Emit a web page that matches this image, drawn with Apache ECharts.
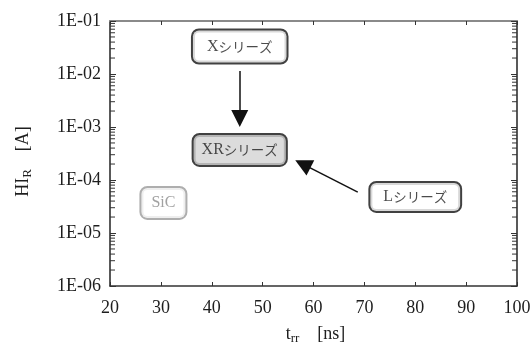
<!DOCTYPE html>
<html>
<head>
<meta charset="utf-8">
<script src="https://cdn.jsdelivr.net/npm/echarts@6/dist/echarts.min.js"></script>
<style>
  html, body { margin: 0; padding: 0; background: #fff; }
  #chart { width: 532px; height: 345px; }
</style>
</head>
<body>
<div id="chart"></div>
<script>
// x axis: reverse recovery time t_rr [ns]
const xTicks = [20, 30, 40, 50, 60, 70, 80, 90, 100];
// y axis: current [A], decade tick labels
const yTickLabels = ['1E-06', '1E-05', '1E-04', '1E-03', '1E-02', '1E-01'];
// log minor tick multipliers within each decade
const minorMultipliers = [2, 3, 4, 5, 6, 7, 8, 9];

// series annotation boxes: name, t_rr, current
const seriesNames = ['Xシリーズ', 'XRシリーズ', 'SiC', 'Lシリーズ'];
const seriesTrr = [45.5, 45.5, 30.5, 80];
const seriesCurrent = [3.3e-2, 3.7e-4, 3.7e-5, 4.8e-5];

// arrows: [from, to] as [t_rr, current]
const arrowFrom = [[45.5, 1.14e-2], [68.7, 5.9e-5]];
const arrowTo = [[45.5, 1.45e-3], [57.9, 2.0e-4]];

const SERIF = '"Liberation Serif", "Times New Roman", serif';
const CJK = '"Noto Sans CJK JP", sans-serif';
const INK = '#1e1e1e';

function boxRich(color) {
  return {
    l: { fontFamily: SERIF, fontSize: 16, color: color, lineHeight: 18 },
    k: { fontFamily: CJK, fontSize: 13.5, color: color, lineHeight: 18 }
  };
}

const boxStyles = [
  { border: '#111', fill: '#fff', color: INK, pad: [7, 14] },
  { border: '#111', fill: '#d3d3d3', color: INK, pad: [6, 8] },
  { border: '#9a9a9a', fill: '#fff', color: '#8a8a8a', pad: [6, 10] },
  { border: '#111', fill: '#fff', color: INK, pad: [5, 13] }
];

function splitName(name) {
  const m = name.match(/^([A-Za-z]+)(.*)$/);
  return m[2] ? '{l|' + m[1] + '}{k|' + m[2] + '}' : '{l|' + m[1] + '}';
}

const boxData = seriesNames.map((n, i) => ({
  value: [seriesTrr[i], seriesCurrent[i]],
  name: n,
  label: {
    show: true,
    position: 'inside',
    formatter: splitName(n),
    backgroundColor: boxStyles[i].fill,
    borderColor: boxStyles[i].border,
    borderWidth: 2,
    borderRadius: 6,
    padding: boxStyles[i].pad,
    rich: boxRich(boxStyles[i].color)
  }
}));

const arrowData = arrowFrom.map((f, i) => ({ coords: [f, arrowTo[i]] }));

// minor tick values at 2..9 x 10^k for each decade on the axis
const minorTickValues = [];
for (let e = -6; e < -1; e++) {
  minorMultipliers.forEach(m => minorTickValues.push(m * Math.pow(10, e)));
}

const yLabel = v => {
  const e = Math.round(Math.log10(v));
  return yTickLabels[e + 6] || '';
};

const chart = echarts.init(document.getElementById('chart'), null, { renderer: 'canvas' });

const axisNameRich = {
  m: { fontFamily: SERIF, fontSize: 18, color: INK, lineHeight: 20, padding: [0, 0, 5, 0], verticalAlign: 'top' },
  s: { fontFamily: SERIF, fontSize: 13, color: INK, lineHeight: 13, verticalAlign: 'bottom' }
};

chart.setOption({
  animation: false,
  grid: { left: 110, right: 15, top: 21, bottom: 59, outerBoundsMode: 'none', containLabel: false },
  xAxis: [
    {
      type: 'value', min: 20, max: 100, interval: 10, position: 'bottom',
      name: '{m|t}{s|rr}{m|    [ns]}', nameLocation: 'middle', nameGap: 39,
      nameTextStyle: { rich: axisNameRich, padding: [0, 0, 0, 4] },
      axisLine: { lineStyle: { color: '#333', width: 1.5 } },
      axisTick: { inside: true, length: 4, lineStyle: { color: '#333' } },
      axisLabel: { fontFamily: SERIF, fontSize: 18, color: INK, margin: 13, formatter: v => String(xTicks[xTicks.indexOf(v)]) },
      splitLine: { show: false }
    },
    {
      type: 'value', min: 20, max: 100, interval: 10, position: 'top',
      axisLine: { lineStyle: { color: '#8a8a8a', width: 2 } },
      axisTick: { inside: true, length: 4, lineStyle: { color: '#333' } },
      axisLabel: { show: false },
      splitLine: { show: false }
    }
  ],
  yAxis: [
    {
      type: 'log', logBase: 10, min: 1e-6, max: 1e-1, position: 'left',
      name: '{m|HI}{s|R}{m|    [A]}', nameLocation: 'middle', nameGap: 76,
      nameTextStyle: { rich: axisNameRich, padding: [0, 16, 0, 0] },
      axisLine: { lineStyle: { color: '#222', width: 1.5 } },
      axisTick: { inside: true, length: 6, lineStyle: { color: '#333' } },
      axisLabel: { fontFamily: SERIF, fontSize: 18, color: INK, margin: 9, formatter: yLabel },
      splitLine: { show: false }
    },
    {
      type: 'log', logBase: 10, min: 1e-6, max: 1e-1, position: 'right',
      axisLine: { lineStyle: { color: '#222', width: 1.5 } },
      axisTick: { inside: true, length: 6, lineStyle: { color: '#333' } },
      axisLabel: { show: false },
      splitLine: { show: false }
    }
  ],
  series: [
    {
      // log-spaced minor ticks on left and right frame edges
      type: 'custom',
      xAxisIndex: 0, yAxisIndex: 0,
      silent: true,
      data: minorTickValues.map(v => [20, v]),
      renderItem: (params, api) => {
        const left = api.coord([20, api.value(1)]);
        const right = api.coord([100, api.value(1)]);
        const style = { stroke: '#333', lineWidth: 1 };
        return {
          type: 'group',
          children: [
            { type: 'line', shape: { x1: left[0], y1: left[1], x2: left[0] + 5, y2: left[1] }, style: style },
            { type: 'line', shape: { x1: right[0], y1: right[1], x2: right[0] - 5, y2: right[1] }, style: style }
          ]
        };
      },
      z: 1
    },
    {
      type: 'lines',
      coordinateSystem: 'cartesian2d',
      xAxisIndex: 0, yAxisIndex: 0,
      symbol: ['none', 'triangle'],
      symbolSize: [13, 17],
      lineStyle: { color: '#111', width: 1.5, opacity: 1 },
      itemStyle: { color: '#111' },
      data: arrowData,
      z: 3
    },
    {
      type: 'scatter',
      xAxisIndex: 0, yAxisIndex: 0,
      symbolSize: 1,
      itemStyle: { color: 'transparent' },
      data: boxData,
      z: 5
    }
  ]
});
</script>
</body>
</html>
